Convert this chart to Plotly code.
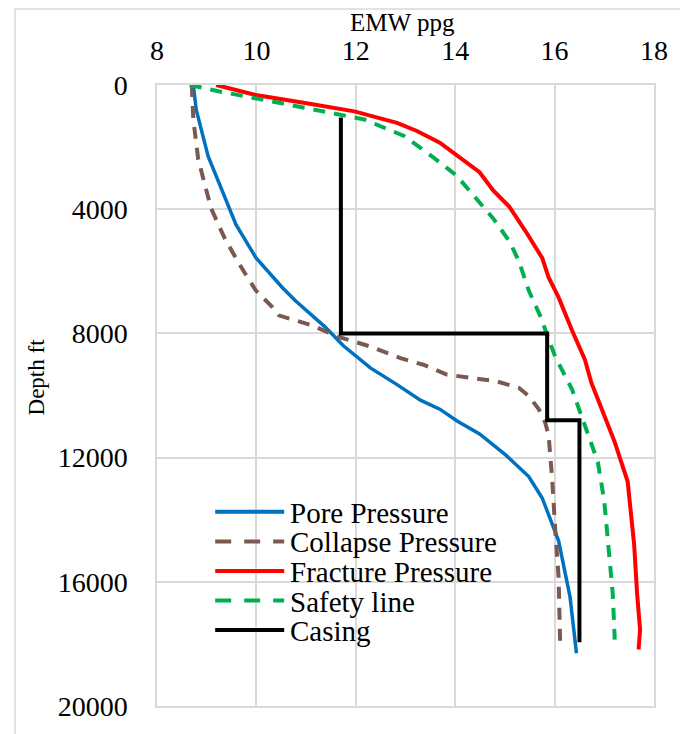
import plotly.graph_objects as go

# Equivalent mud weight (ppg) versus depth (ft)
pore_depth = [0, 800, 2300, 3760, 4500, 5560, 6520, 6940, 7790, 8400, 9120, 9650,
              10150, 10440, 10810, 11240, 11920, 12610, 13300, 14680, 16480, 18300]
pore_ppg = [8.73, 8.79, 9.03, 9.39, 9.59, 9.99, 10.52, 10.78, 11.38, 11.75, 12.30, 12.83,
            13.30, 13.69, 14.03, 14.49, 15.02, 15.48, 15.75, 16.08, 16.31, 16.44]

collapse_depth = [0, 1100, 2400, 3980, 4930, 5780, 6620, 7150, 7420, 7736, 8108, 8426,
                  8797, 9010, 9327, 9433, 9539, 9751, 10016, 10440, 10865, 11288,
                  12666, 14255, 15844, 17900]
collapse_ppg = [8.70, 8.73, 8.83, 9.09, 9.36, 9.66, 9.99, 10.32, 10.45, 11.11, 11.64, 12.30,
                12.90, 13.36, 13.83, 14.29, 14.82, 15.28, 15.48, 15.68, 15.81, 15.88,
                15.95, 16.01, 16.08, 16.11]

fracture_depth = [0, 320, 580, 850, 1220, 1480, 1860, 2280, 2810, 3390, 3920, 4720, 5570,
                  6200, 6840, 7900, 8850, 9590, 10440, 11500, 12770, 13730, 14790, 16380,
                  17540, 18180]
fracture_ppg = [9.19, 9.99, 10.98, 11.97, 12.83, 13.23, 13.69, 14.03, 14.49, 14.76, 15.09,
                15.42, 15.75, 15.88, 16.08, 16.35, 16.61, 16.74, 16.94, 17.21, 17.47, 17.54,
                17.60, 17.66, 17.72, 17.69]

safety_depth = [0, 210, 530, 850, 1110, 1640, 2330, 2920, 3660, 4290, 5030, 5670, 6620,
                7470, 8320, 8740, 9800, 10970, 12140, 13410, 15100, 16380, 17860]
safety_ppg = [8.66, 9.26, 10.32, 11.38, 12.17, 12.97, 13.56, 14.03, 14.42, 14.76, 15.09,
              15.28, 15.48, 15.72, 15.91, 16.01, 16.35, 16.61, 16.87, 17.00, 17.10, 17.17,
              17.21]

casing_depth = [1050, 8000, 8000, 10800, 10800, 17950]
casing_ppg = [11.7, 11.7, 15.85, 15.85, 16.5, 16.5]

x_ticks = [8, 10, 12, 14, 16, 18]
y_ticks = [0, 4000, 8000, 12000, 16000, 20000]
y_tick_labels = ["0", "4000", "8000", "12000", "16000", "20000"]

series_names = ["Pore Pressure", "Collapse Pressure", "Fracture Pressure", "Safety line", "Casing"]
series_colors = ["#0070C0", "#7A5A50", "#FF0000", "#00B050", "#000000"]
series_dash = ["solid", "12px,9px", "solid", "12px,9px", "solid"]
series_width = [3.5, 4, 4, 4, 4]

series_data = [(pore_ppg, pore_depth), (collapse_ppg, collapse_depth),
               (fracture_ppg, fracture_depth), (safety_ppg, safety_depth),
               (casing_ppg, casing_depth)]

W, H = 680, 734
M_L, M_R, M_T, M_B = 157, 19, 85, 19
PW, PH = W - M_L - M_R, H - M_T - M_B


def px_x(x):
    return (x - M_L) / PW


def px_y(y):
    return (H - M_B - y) / PH


FONT = "Liberation Serif"
GRID = "#D9D9D9"

fig = go.Figure()
for name, color, dash, lw, (xs, ys) in zip(series_names, series_colors, series_dash,
                                            series_width, series_data):
    fig.add_trace(go.Scatter(x=xs, y=ys, mode="lines", name=name, showlegend=False,
                             line=dict(color=color, width=lw, dash=dash)))

shapes = []
annotations = []

# chart frame
shapes.append(dict(type="rect", xref="paper", yref="paper",
                   x0=px_x(13), x1=px_x(700), y0=px_y(760), y1=px_y(8),
                   line=dict(color=GRID, width=1.5), layer="below"))

# legend drawn inside the plot area
legend_rows = [518, 548, 578, 608, 638]
legend_dash = ["solid", "16px,13px", "solid", "16px,13px", "solid"]
for name, color, dash, row in zip(series_names, series_colors, legend_dash, legend_rows):
    shapes.append(dict(type="line", xref="paper", yref="paper",
                       x0=px_x(216), x1=px_x(286), y0=px_y(row), y1=px_y(row),
                       line=dict(color=color, width=4, dash=dash)))
    annotations.append(dict(text=name, xref="paper", yref="paper",
                            x=px_x(290), y=px_y(row + 1), xanchor="left", yanchor="middle",
                            showarrow=False, font=dict(family=FONT, size=29, color="#000")))

annotations.append(dict(text="EMW ppg", xref="paper", yref="paper",
                        x=px_x(406), y=px_y(22), xanchor="center", yanchor="middle",
                        showarrow=False, font=dict(family=FONT, size=25, color="#000")))
annotations.append(dict(text="Depth ft", xref="paper", yref="paper",
                        x=px_x(35), y=px_y(381), xanchor="center", yanchor="middle",
                        textangle=-90, showarrow=False,
                        font=dict(family=FONT, size=23, color="#000")))

fig.update_layout(
    width=W, height=H,
    margin=dict(l=M_L, r=M_R, t=M_T, b=M_B),
    paper_bgcolor="white", plot_bgcolor="white",
    font=dict(family=FONT, size=28, color="#000"),
    shapes=shapes, annotations=annotations,
    xaxis=dict(side="top", range=[8, 18], tickvals=x_ticks, ticks="",
               showgrid=True, gridcolor=GRID, gridwidth=1.5,
               showline=True, linecolor=GRID, linewidth=1.5, mirror=True,
               zeroline=False, ticklabelstandoff=12,
               tickfont=dict(family=FONT, size=28, color="#000")),
    yaxis=dict(range=[20000, 0], tickvals=y_ticks, ticktext=y_tick_labels, ticks="",
               showgrid=True, gridcolor=GRID, gridwidth=1.5,
               showline=True, linecolor=GRID, linewidth=1.5, mirror=True,
               zeroline=False, ticklabelstandoff=22,
               tickfont=dict(family=FONT, size=28, color="#000")),
)

fig.write_html("out.html")
